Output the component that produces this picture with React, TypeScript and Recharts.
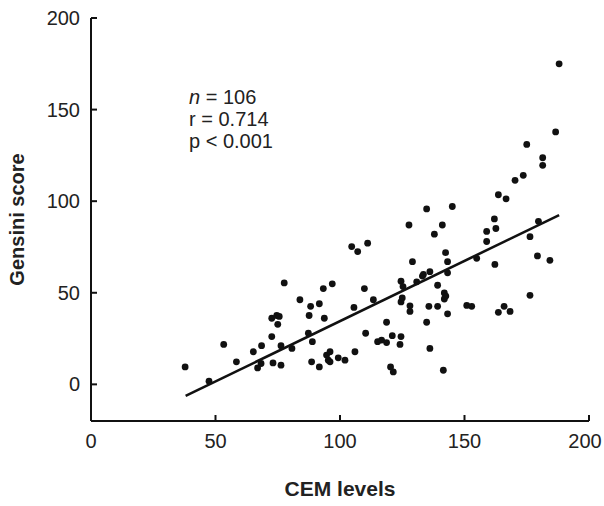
import { Label, Scatter, ScatterChart, XAxis, YAxis } from "recharts";

const cemLevels = [
  37.8, 47.4, 53.3, 58.4, 65.2, 68.5, 68.3, 66.9, 72.6, 72.6, 74.6, 75.6, 75.0, 73.1, 76.3,
  76.3, 77.6, 80.7, 83.9, 87.6, 88.2, 87.3, 88.9, 88.6, 91.7, 91.7, 93.3, 93.7, 96.9, 94.6,
  96.0, 95.3, 96.0, 99.3, 102.0, 105.6, 106.0, 104.7, 107.1, 111.1, 109.8, 113.4, 110.3,
  115.1, 116.7, 118.7, 118.7, 120.3, 121.4, 121.0, 124.1, 124.5, 124.5, 125.0, 124.5, 128.1,
  128.1, 127.7, 129.1, 130.8, 133.1, 136.1, 134.8, 134.8, 135.7, 136.1, 137.9, 139.2, 139.2,
  141.1, 142.4, 143.2, 143.2, 141.9, 141.9, 143.2, 141.5, 145.1, 150.9, 152.9, 154.9, 158.9,
  158.9, 162.0, 162.6, 162.2, 163.6, 166.7, 163.6, 165.9, 168.3, 170.3, 173.6, 175.0, 176.3,
  176.3, 179.3, 179.7, 181.4, 181.4, 184.3, 186.6, 188.0, 125.3, 142.5, 133.5
];

const gensiniScores = [
  9.5, 1.7, 21.8, 12.3, 17.8, 21.1, 11.4, 9.0, 26.1, 36.1, 37.6, 37.1, 32.8, 11.7, 10.5,
  21.1, 55.4, 19.6, 46.2, 37.6, 42.6, 27.9, 23.3, 12.3, 9.5, 44.0, 52.3, 36.1, 54.9, 16.0,
  17.8, 13.2, 12.3, 14.5, 13.2, 42.0, 17.8, 75.2, 72.5, 77.1, 52.3, 46.2, 27.9, 23.3, 24.2,
  22.8, 33.9, 9.5, 6.8, 26.6, 21.8, 26.1, 56.3, 47.2, 45.0, 42.9, 39.8, 87.0, 67.0, 56.0,
  59.1, 61.5, 95.8, 33.9, 42.6, 19.6, 82.0, 54.1, 42.6, 87.0, 71.9, 67.0, 60.9, 49.9, 46.6,
  38.5, 7.7, 97.1, 43.1, 42.6, 68.8, 78.0, 83.5, 90.3, 85.1, 65.5, 103.5, 101.3, 39.3, 42.6,
  39.8, 111.4, 114.1, 131.0, 80.6, 48.6, 70.1, 89.0, 123.7, 119.6, 67.7, 137.8, 175.0, 53.4,
  48.2, 60.0
];

// fitted regression line end points
const fitX = [38, 188];
const fitY = [-6.3, 92.4];

const xTicks = [0, 50, 100, 150, 200];
const yTicks = [0, 50, 100, 150, 200];

const stats = ["= 106", "r = 0.714", "p < 0.001"];

const points = cemLevels.map((x, i) => ({ x, y: gensiniScores[i] }));
const fitLine = fitX.map((x, i) => ({ x, y: fitY[i] }));

const font = "'Liberation Sans', Arial, sans-serif";
const ink = "#111";

const Dot = (props: any) => <circle cx={props.cx} cy={props.cy} r={3.4} fill={ink} />;

// last label sits a little left of its tick, as in the original figure
const XTick = (props: any) => {
  const { x, y, payload } = props;
  const shift = payload.value === 200 ? -4 : 0;
  return (
    <text
      x={x + shift}
      y={y}
      dy="0.71em"
      textAnchor="middle"
      fill="#222"
      fontSize={20}
      fontFamily={font}
    >
      {payload.value}
    </text>
  );
};

export default function App() {
  return (
    <div style={{ position: "absolute", left: 0, top: 0, width: 604, height: 506, background: "#fff" }}>
      <ScatterChart
        width={604}
        height={506}
        margin={{ top: 18, right: 15, bottom: 55, left: 0 }}
      >
        <XAxis
          type="number"
          dataKey="x"
          domain={[0, 200]}
          ticks={xTicks}
          allowDataOverflow
          height={30}
          tickSize={-6}
          tickMargin={19}
          stroke={ink}
          strokeWidth={2}
          tick={<XTick />}
        >
          <Label
            value="CEM levels"
            position="bottom"
            offset={30}
            style={{ fill: "#222", fontSize: 21, fontWeight: 700, fontFamily: font }}
          />
        </XAxis>
        <YAxis
          type="number"
          dataKey="y"
          domain={[-20, 200]}
          ticks={yTicks}
          allowDataOverflow
          width={91}
          tickSize={-6}
          tickMargin={17}
          stroke={ink}
          strokeWidth={2}
          tick={{ fill: "#222", fontSize: 20, fontFamily: font }}
        >
          <Label
            value="Gensini score"
            angle={-90}
            position="insideLeft"
            offset={17}
            style={{ textAnchor: "middle", fill: "#222", fontSize: 20, fontWeight: 700, fontFamily: font }}
          />
        </YAxis>
        <Scatter data={points} shape={Dot} isAnimationActive={false} />
        <Scatter
          data={fitLine}
          line={{ stroke: ink, strokeWidth: 2.6 }}
          shape={() => <g />}
          isAnimationActive={false}
        />
      </ScatterChart>
      <div
        style={{
          position: "absolute",
          left: 189,
          top: 86,
          fontFamily: font,
          fontSize: 20,
          lineHeight: "22px",
          color: "#222"
        }}
      >
        <div>
          <i>n</i> {stats[0]}
        </div>
        <div>{stats[1]}</div>
        <div>{stats[2]}</div>
      </div>
    </div>
  );
}
